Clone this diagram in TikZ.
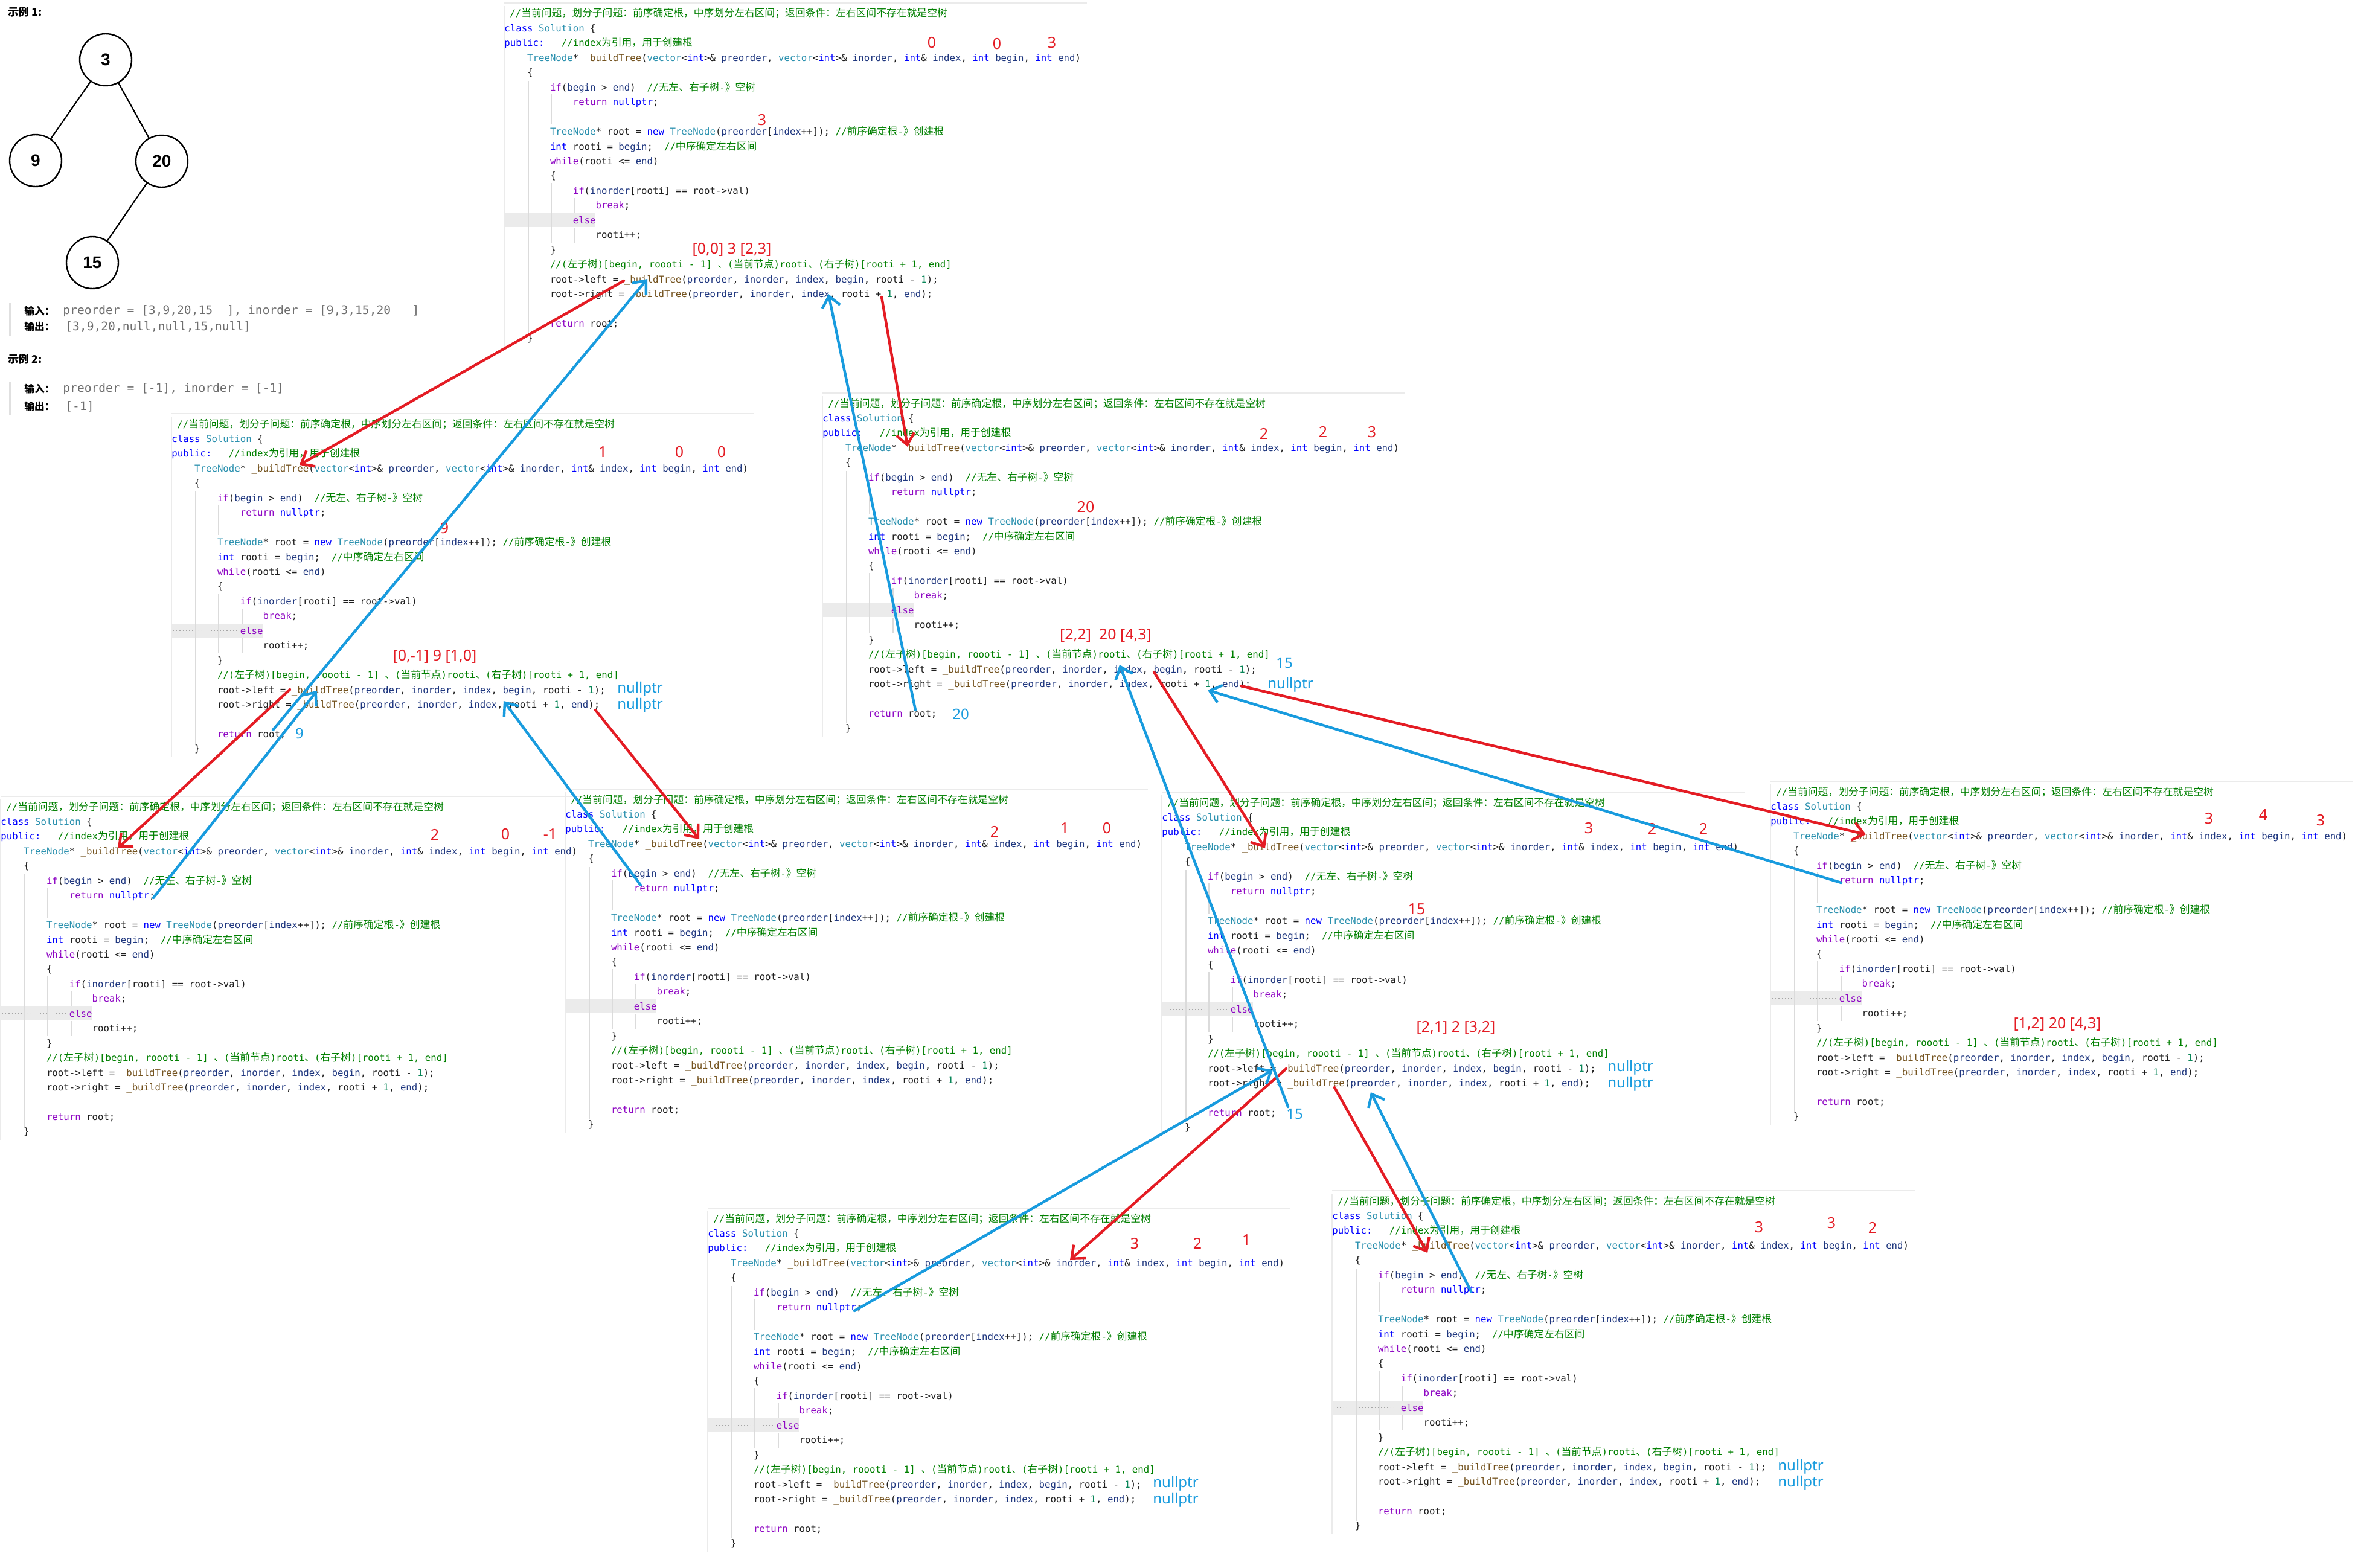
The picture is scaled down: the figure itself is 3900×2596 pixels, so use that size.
\documentclass[tikz,border=0pt]{standalone}
\usepackage{fontspec}
\usetikzlibrary{arrows.meta}
\frenchspacing

\newfontfamily\codefont{DejaVu Sans Mono}
\newfontfamily\zhfont[Scale=1.07]{Noto Sans CJK SC}
\newfontfamily\exzhfont{Noto Sans CJK SC}
\newfontfamily\annfont{Noto Sans}
\newfontfamily\treefont{Liberation Sans}

\definecolor{cdcom}{RGB}{0,128,0}
\definecolor{cdkw}{RGB}{0,0,255}
\definecolor{cdctl}{RGB}{143,8,196}
\definecolor{cdtyp}{RGB}{43,145,175}
\definecolor{cdpar}{RGB}{31,55,127}
\definecolor{cdfun}{RGB}{116,83,31}
\definecolor{cdnum}{RGB}{9,134,88}
\definecolor{cdtxt}{RGB}{30,30,30}
\definecolor{annred}{RGB}{228,28,36}
\definecolor{annblue}{RGB}{24,155,222}
\definecolor{exgray}{RGB}{110,110,110}

\newcommand\ckw[1]{\textcolor{cdkw}{#1}}
\newcommand\cctl[1]{\textcolor{cdctl}{#1}}
\newcommand\ctyp[1]{\textcolor{cdtyp}{#1}}
\newcommand\cpar[1]{\textcolor{cdpar}{#1}}
\newcommand\cfun[1]{\textcolor{cdfun}{#1}}
\newcommand\ccom[1]{\textcolor{cdcom}{#1}}
\newcommand\cnum[1]{\textcolor{cdnum}{#1}}
\newcommand\zh[1]{{\zhfont #1}}

\tikzset{
  codeline/.style={anchor=base west, inner sep=0pt, text=cdtxt,
    font=\codefont\fontsize{7.85}{9.4}\selectfont},
  frameline/.style={draw=black!8, line width=0.8pt},
  guide/.style={draw=black!14, line width=0.6pt},
  elsebox/.style={fill=black!8},
  elsedots/.style={draw=black!35, line width=0.6pt, dotted},
  redmark/.style={inner sep=0pt, text=annred, font=\annfont\fontsize{12.5}{12.5}\selectfont},
  bluemark/.style={inner sep=0pt, text=annblue, font=\annfont\fontsize{12}{12}\selectfont},
  callarrow/.style={draw=annred, line width=2.2pt, line cap=round,
    -{Straight Barb[length=9pt,width=15pt]}},
  retarrow/.style={draw=annblue, line width=2.2pt, line cap=round,
    -{Straight Barb[length=9pt,width=15pt]}},
  treenode/.style={circle, draw, line width=1.2pt, minimum size=43pt, inner sep=0pt,
    font=\treefont\bfseries\fontsize{14}{14}\selectfont},
  treeedge/.style={line width=1.1pt},
  exhead/.style={anchor=west, inner sep=0pt, font=\exzhfont\bfseries\fontsize{8.75}{9}\selectfont},
  exlabel/.style={anchor=west, inner sep=0pt, font=\exzhfont\bfseries\fontsize{8.35}{9}\selectfont},
  exvalue/.style={anchor=west, inner sep=0pt, text=exgray, font=\codefont\fontsize{9.8}{10}\selectfont},
  exbar/.style={draw=black!12, line width=1.5pt},
}

% one screenshot of the code, #1 name, (#2,#3) left edge / first line
\newcommand\codeblock[3]{%
\begin{scope}[shift={(#2,#3)}]
\draw[frameline] (0,-17) -- (965,-17);
\draw[frameline] (0,-12) -- (0,552);
\fill[elsebox] (0,330.5) rectangle (151,354);
\draw[elsedots] (3,342.3) -- (110,342.3);
\draw[guide] (40,112) -- (40,530);
\draw[guide] (78,134) -- (78,184) (78,281) -- (78,380);
\draw[guide] (117,306) -- (117,331) (117,355) -- (117,380);
\node[codeline] (#1-0) at (9,6) {\ccom{//\zh{当前问题，划分子问题：前序确定根，中序划分左右区间；返回条件：左右区间不存在就是空树}}};
\node[codeline] (#1-1) at (0,30.45) {\ckw{class} \ctyp{Solution} \{};
\node[codeline] (#1-2) at (0,54.9) {\ckw{public:}~~~\ccom{//index\zh{为引用，用于创建根}}};
\node[codeline] (#1-3) at (37.8,79.35) {\ctyp{TreeNode}* \cfun{\_buildTree}(\ctyp{vector}<\ckw{int}>\& \cpar{preorder}, \ctyp{vector}<\ckw{int}>\& \cpar{inorder}, \ckw{int}\& \cpar{index}, \ckw{int} \cpar{begin}, \ckw{int} \cpar{end})};
\node[codeline] (#1-4) at (37.8,103.8) {\{};
\node[codeline] (#1-5) at (75.6,128.25) {\cctl{if}(\cpar{begin} > \cpar{end})~~\ccom{//\zh{无左、右子树}-\zh{》空树}}};
\node[codeline] (#1-6) at (113.4,152.7) {\cctl{return} \ckw{nullptr};};
\node[codeline] (#1-8) at (75.6,201.6) {\ctyp{TreeNode}* root = \ckw{new} \ctyp{TreeNode}(\cpar{preorder}[\cpar{index}++]); \ccom{//\zh{前序确定根}-\zh{》创建根}}};
\node[codeline] (#1-9) at (75.6,226.05) {\ckw{int} rooti = \cpar{begin};~~\ccom{//\zh{中序确定左右区间}}};
\node[codeline] (#1-10) at (75.6,250.5) {\cctl{while}(rooti <= \cpar{end})};
\node[codeline] (#1-11) at (75.6,274.95) {\{};
\node[codeline] (#1-12) at (113.4,299.4) {\cctl{if}(\cpar{inorder}[rooti] == root->val)};
\node[codeline] (#1-13) at (151.2,323.85) {\cctl{break};};
\node[codeline] (#1-14) at (113.4,348.3) {\cctl{else}};
\node[codeline] (#1-15) at (151.2,372.75) {rooti++;};
\node[codeline] (#1-16) at (75.6,397.2) {\}};
\node[codeline] (#1-17) at (75.6,421.65) {\ccom{//(\zh{左子树})[begin, roooti - 1] \zh{、}(\zh{当前节点})rooti\zh{、}(\zh{右子树})[rooti + 1, end]}};
\node[codeline] (#1-18) at (75.6,446.1) {root->left = \cfun{\_buildTree}(\cpar{preorder}, \cpar{inorder}, \cpar{index}, \cpar{begin}, rooti - \cnum{1});};
\node[codeline] (#1-19) at (75.6,470.55) {root->right = \cfun{\_buildTree}(\cpar{preorder}, \cpar{inorder}, \cpar{index}, rooti + \cnum{1}, \cpar{end});};
\node[codeline] (#1-21) at (75.6,519.45) {\cctl{return} root;};
\node[codeline] (#1-22) at (37.8,543.9) {\}};
\end{scope}}

\begin{document}
\begin{tikzpicture}[x=0.5pt,y=-0.5pt]
\useasboundingbox (0,0) rectangle (3900,2596);
\fill[white] (0,0) rectangle (3900,2596);

% example tree and inputs
\node[exhead] (ex1) at (13,20) {示例 1:};
\node[treenode] (t3) at (175,99) {3};
\node[treenode] (t9) at (59,266) {9};
\node[treenode] (t20) at (268,267) {20};
\node[treenode] (t15) at (153,435) {15};
\draw[treeedge] (t3) -- (t9);
\draw[treeedge] (t3) -- (t20);
\draw[treeedge] (t20) -- (t15);
\draw[exbar] (16,502) -- (16,556);
\node[exlabel] (ex1-in) at (40,515) {输入：};
\node[exvalue] (ex1-inv) at (104,515) {preorder = [3,9,20,15~~], inorder = [9,3,15,20~~~]};
\node[exlabel] (ex1-out) at (40,541.5) {输出：};
\node[exvalue] (ex1-outv) at (108,541.5) {[3,9,20,null,null,15,null]};
\node[exhead] (ex2) at (13,595) {示例 2:};
\draw[exbar] (16,632) -- (16,687);
\node[exlabel] (ex2-in) at (40,644) {输入：};
\node[exvalue] (ex2-inv) at (104,644) {preorder = [-1], inorder = [-1]};
\node[exlabel] (ex2-out) at (40,673) {输出：};
\node[exvalue] (ex2-outv) at (108,673) {[-1]};

% code screenshots
\codeblock{A}{835}{22}
\codeblock{B}{284}{702}
\codeblock{C}{1362}{668}
\codeblock{D}{1}{1336}
\codeblock{E}{936}{1324}
\codeblock{F}{1924}{1329}
\codeblock{G}{2932}{1311}
\codeblock{H}{1172}{2018}
\codeblock{I}{2206}{1989}

% values written on the screenshots
\node[redmark] (A-ix) at (1543,71) {0};
\node[redmark] (A-bg) at (1651,73) {0};
\node[redmark] (A-en) at (1742,71) {3};
\node[redmark] (A-rt) at (1262,199) {3};
\node[redmark] (A-sp) at (1212,413) {[0,0] 3 [2,3]};

\node[redmark] (B-ix) at (998,749) {1};
\node[redmark] (B-bg) at (1125,749) {0};
\node[redmark] (B-en) at (1195,749) {0};
\node[redmark] (B-rt) at (736,875) {9};
\node[redmark] (B-sp) at (720,1087) {[0,-1] 9 [1,0]};
\node[bluemark] (B-nl) at (1060,1141) {nullptr};
\node[bluemark] (B-nr) at (1060,1168) {nullptr};
\node[bluemark] (B-ret) at (496,1215) {9};

\node[redmark] (C-ix) at (2093,718) {2};
\node[redmark] (C-bg) at (2191,715) {2};
\node[redmark] (C-en) at (2272,716) {3};
\node[redmark] (C-rt) at (1798,840) {20};
\node[redmark] (C-sp) at (1831,1052) {[2,2]~~20 [4,3]};
\node[bluemark] (C-nl) at (2127,1098) {15};
\node[bluemark] (C-nr) at (2137,1134) {nullptr};
\node[bluemark] (C-ret) at (1591,1183) {20};

\node[redmark] (D-ix) at (720,1382) {2};
\node[redmark] (D-bg) at (837,1382) {0};
\node[redmark] (D-en) at (911,1382) {-1};

\node[redmark] (E-ix) at (1647,1377) {2};
\node[redmark] (E-bg) at (1763,1372) {1};
\node[redmark] (E-en) at (1833,1372) {0};

\node[redmark] (F-ix) at (2631,1372) {3};
\node[redmark] (F-bg) at (2736,1372) {2};
\node[redmark] (F-en) at (2821,1372) {2};
\node[redmark] (F-rt) at (2346,1506) {15};
\node[redmark] (F-sp) at (2411,1702) {[2,1] 2 [3,2]};
\node[bluemark] (F-nl) at (2700,1768) {nullptr};
\node[bluemark] (F-nr) at (2700,1795) {nullptr};
\node[bluemark] (F-ret) at (2144,1845) {15};

\node[redmark] (G-ix) at (3658,1356) {3};
\node[redmark] (G-bg) at (3748,1350) {4};
\node[redmark] (G-en) at (3843,1359) {3};
\node[redmark] (G-sp) at (3407,1696) {[1,2] 20 [4,3]};

\node[redmark] (H-ix) at (1879,2060) {3};
\node[redmark] (H-bg) at (1983,2059) {2};
\node[redmark] (H-en) at (2064,2054) {1};
\node[bluemark] (H-nl) at (1947,2457) {nullptr};
\node[bluemark] (H-nr) at (1947,2484) {nullptr};

\node[redmark] (I-ix) at (2913,2033) {3};
\node[redmark] (I-bg) at (3033,2026) {3};
\node[redmark] (I-en) at (3101,2033) {2};
\node[bluemark] (I-nl) at (2982,2429) {nullptr};
\node[bluemark] (I-nr) at (2982,2456) {nullptr};

% ends of the hand drawn arrows
\coordinate (A-lc) at (1033,465);
\coordinate (A-rc) at (1460,492);
\coordinate (A-lin) at (1072,462);
\coordinate (A-rin) at (1372,487);
\coordinate (B-in) at (496,770);
\coordinate (B-lc) at (480,1142);
\coordinate (B-rc) at (986,1176);
\coordinate (B-lin) at (525,1144);
\coordinate (B-rin) at (834,1161);
\coordinate (B-out) at (452,1209);
\coordinate (C-in) at (1503,740);
\coordinate (C-lc) at (1911,1113);
\coordinate (C-rc) at (2055,1136);
\coordinate (C-lin) at (1854,1101);
\coordinate (C-rin) at (2000,1143);
\coordinate (C-out) at (1516,1176);
\coordinate (D-in) at (195,1405);
\coordinate (D-out) at (254,1487);
\coordinate (E-in) at (1158,1390);
\coordinate (E-out) at (1061,1466);
\coordinate (F-in) at (2095,1405);
\coordinate (F-lc) at (2130,1770);
\coordinate (F-rc) at (2210,1801);
\coordinate (F-lin) at (2108,1772);
\coordinate (F-rin) at (2270,1809);
\coordinate (F-out) at (2133,1833);
\coordinate (G-in) at (3090,1382);
\coordinate (G-out) at (3049,1462);
\coordinate (H-in) at (1772,2087);
\coordinate (H-out) at (1415,2171);
\coordinate (I-in) at (2364,2075);
\coordinate (I-out) at (2436,2139);

% calls
\draw[callarrow] (A-lc) -- (B-in);
\draw[callarrow] (A-rc) -- (C-in);
\draw[callarrow] (B-lc) -- (D-in);
\draw[callarrow] (B-rc) -- (E-in);
\draw[callarrow] (C-lc) -- (F-in);
\draw[callarrow] (C-rc) -- (G-in);
\draw[callarrow] (F-lc) -- (H-in);
\draw[callarrow] (F-rc) -- (I-in);

% returns
\draw[retarrow] (D-out) -- (B-lin);
\draw[retarrow] (E-out) -- (B-rin);
\draw[retarrow] (B-out) -- (A-lin);
\draw[retarrow] (C-out) -- (A-rin);
\draw[retarrow] (F-out) -- (C-lin);
\draw[retarrow] (G-out) -- (C-rin);
\draw[retarrow] (H-out) -- (F-lin);
\draw[retarrow] (I-out) -- (F-rin);
\end{tikzpicture}
\end{document}
